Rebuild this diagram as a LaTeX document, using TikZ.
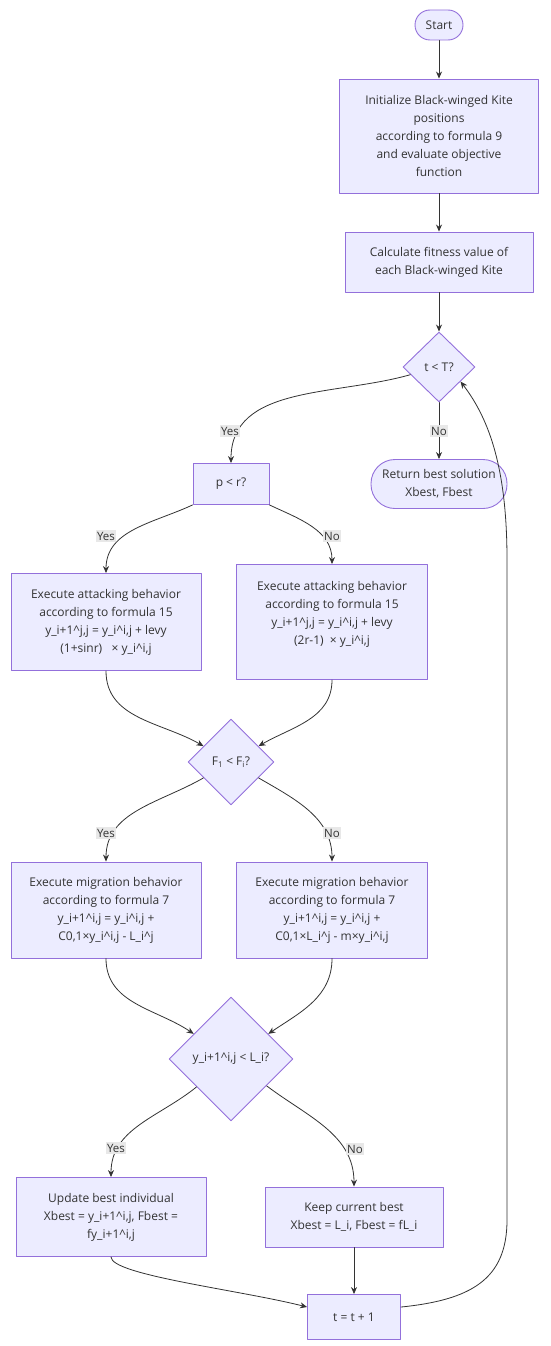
\documentclass[tikz,border=0pt]{standalone}
\usepackage{fontspec}
\setmainfont{Open Sans}
\usetikzlibrary{shapes.geometric,arrows.meta}

\definecolor{kitefill}{HTML}{ECECFF}
\definecolor{kiteline}{HTML}{9370DB}
\definecolor{kitetext}{HTML}{333333}
\definecolor{kitelabel}{HTML}{E8E8E8}

% 下划线与上标符号
\newcommand{\usc}{\textunderscore}
\newcommand{\crt}{\textasciicircum}

\begin{document}
\begin{tikzpicture}[x=1pt, y=-1pt, >={Stealth[length=7pt,width=6pt]}, line join=round, line cap=round,
    box/.style={draw=kiteline, fill=kitefill, line width=0.9pt, text=kitetext, align=center,
        inner sep=0pt, font=\fontsize{12}{18}\selectfont},
    term/.style={box, rounded corners=15pt},
    decide/.style={box, diamond, aspect=1},
    flow/.style={->, draw=kitetext, line width=0.8pt},
    lbl/.style={fill=kitelabel, text=kitetext, inner sep=1.5pt, font=\fontsize{11.5}{13}\selectfont}]
    \useasboundingbox (0,0) rectangle (550,1346);

    % 1. 初始化部分
    \node[term, minimum width=48pt, minimum height=30pt] (start) at (439,25) {Start};
    \node[box, minimum width=199pt, minimum height=114pt] (init) at (439,136)
        {Initialize Black-winged Kite\\positions\\according to formula 9\\and evaluate objective\\function};
    \node[box, minimum width=188pt, minimum height=60pt] (fit) at (439,262)
        {Calculate fitness value of\\each Black-winged Kite};
    \node[decide, minimum width=72pt, minimum height=70pt] (tT) at (439,367) {t < T?};
    \node[term, rounded corners=24pt, minimum width=136pt, minimum height=49pt] (ret) at (439,484)
        {Return best solution\\Xbest, Fbest};

    % 2. 攻击行为
    \node[box, minimum width=76pt, minimum height=41pt] (pr) at (231,484) {p < r?};
    \node[box, minimum width=190pt, minimum height=97pt] (attL) at (106,622)
        {Execute attacking behavior\\according to formula 15\\y\usc i+1\crt j,j = y\usc i\crt i,j + levy\\(1+sinr)\ \ \ × y\usc i\crt i,j};
    \node[box, minimum width=191pt, minimum height=115pt] (attR) at (332,622)
        {Execute attacking behavior\\according to formula 15\\y\usc i+1\crt j,j = y\usc i\crt i,j + levy\\(2r-1)\ \ × y\usc i\crt i,j\\[0pt]\mbox{}};

    % 3. 迁徙行为
    \node[decide, minimum width=86pt, minimum height=86pt] (Fd) at (231,762)
        {F\textsubscript{1} < F\textsubscript{i}?};
    \node[box, minimum width=190pt, minimum height=96pt] (migL) at (106,910)
        {Execute migration behavior\\according to formula 7\\y\usc i+1\crt i,j = y\usc i\crt i,j +\\C0,1×y\usc i\crt i,j - L\usc i\crt j};
    \node[box, minimum width=191pt, minimum height=96pt] (migR) at (332,910)
        {Execute migration behavior\\according to formula 7\\y\usc i+1\crt i,j = y\usc i\crt i,j +\\C0,1×L\usc i\crt j - m×y\usc i\crt i,j};

    % 4. 更新最优个体
    \node[decide, minimum width=124pt, minimum height=124pt] (yd) at (231,1059)
        {y\usc i+1\crt i,j < L\usc i?};
    \node[box, minimum width=190pt, minimum height=79pt] (upd) at (111,1217)
        {Update best individual\\Xbest = y\usc i+1\crt i,j, Fbest =\\fy\usc i+1\crt i,j};
    \node[box, minimum width=178pt, minimum height=60pt] (keep) at (354,1217)
        {Keep current best\\Xbest = L\usc i, Fbest = fL\usc i};
    \node[box, minimum width=93pt, minimum height=45pt] (tinc) at (354,1317) {t = t + 1};

    % 连线
    \draw[flow] (start) -- (init);
    \draw[flow] (init) -- (fit);
    \draw[flow] (fit) -- (tT);
    \draw[flow] (tT.195) to[out=196, in=90] (pr.north);
    \draw[flow] (tT) -- (ret);
    \draw[flow] (pr.south west) to[out=205, in=90] (attL.north);
    \draw[flow] (pr.south east) to[out=-25, in=90] (attR.north);
    \draw[flow] (attL.south) to[out=270, in=150] (Fd.150);
    \draw[flow] (attR.south) to[out=270, in=30] (Fd.30);
    \draw[flow] (Fd.210) to[out=210, in=90] (migL.north);
    \draw[flow] (Fd.330) to[out=330, in=90] (migR.north);
    \draw[flow] (migL.south) to[out=270, in=146] (yd.146);
    \draw[flow] (migR.south) to[out=270, in=34] (yd.34);
    \draw[flow] (yd.219) to[out=219, in=90] (upd.north);
    \draw[flow] (yd.323) to[out=323, in=90] (keep.north);
    \draw[flow] (upd.south) .. controls (111,1275) and (240,1290) .. (tinc.168);
    \draw[flow] (keep) -- (tinc);
    % 回到循环判断
    \draw[flow] (tinc.12) .. controls (470,1300) and (507,1280) .. (507,1220)
        -- (507,560) .. controls (507,470) and (490,420) .. (tT.326);

    % 分支标签
    \node[lbl] (yes1) at (230,431) {Yes};
    \node[lbl] (no1) at (439,431) {No};
    \node[lbl] (yes2) at (106,536) {Yes};
    \node[lbl] (no2) at (332,536) {No};
    \node[lbl] (yes3) at (106,833) {Yes};
    \node[lbl] (no3) at (332,833) {No};
    \node[lbl] (yes4) at (116,1148) {Yes};
    \node[lbl] (no4) at (355,1149) {No};
\end{tikzpicture}
\end{document}
